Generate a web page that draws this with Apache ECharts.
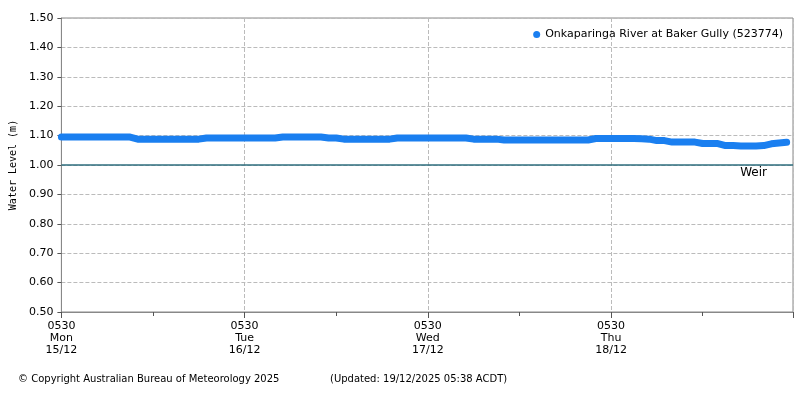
<!DOCTYPE html>
<html><head><meta charset="utf-8">
<script src="https://cdn.jsdelivr.net/npm/echarts@6/dist/echarts.min.js"></script>
<style>html,body{margin:0;background:#fff}#c{width:800px;height:400px}</style>
</head><body><div id="c"></div>
<script>
// hourly readings from Mon 15/12 05:30
var startTime = new Date(2025, 11, 15, 5, 30).getTime();
var endTime = new Date(2025, 11, 19, 5, 30).getTime();
var levels = [
  1.095,1.095,1.095,1.095,1.095,1.095,1.095,1.095,1.095,1.095,
  1.088,1.088,1.088,1.088,1.088,1.088,1.088,1.088,1.088,
  1.092,1.092,1.092,1.092,1.092,1.092,1.092,1.092,1.092,1.092,
  1.095,1.095,1.095,1.095,1.095,1.095,
  1.092,1.092,
  1.088,1.088,1.088,1.088,1.088,1.088,1.088,
  1.092,1.092,1.092,1.092,1.092,1.092,1.092,1.092,1.092,1.092,
  1.088,1.088,1.088,1.088,
  1.085,1.085,1.085,1.085,1.085,1.085,1.085,1.085,1.085,1.085,1.085,1.085,
  1.090,1.090,1.090,1.090,1.090,1.090,1.089,1.088,
  1.083,1.083,
  1.078,1.078,1.078,1.078,
  1.073,1.073,1.073,
  1.066,1.066,1.065,1.065,1.065,1.066,
  1.072,1.075,1.077
];
var weirLevel = 1.0;
var seriesName = 'Onkaparinga River at Baker Gully (523774)';
var dayNames = ['Sun','Mon','Tue','Wed','Thu','Fri','Sat'];

var points = levels.map(function (v, i) { return [startTime + i * 3600000, v]; });
function pad(n) { return (n < 10 ? '0' : '') + n; }

var chart = echarts.init(document.getElementById('c'));
chart.setOption({
    animation: false,
    textStyle: {fontFamily: 'DejaVu Sans', color: '#000'},
    grid: {left: 57, right: 7, top: 18, bottom: 88, show: true, borderColor: '#888', borderWidth: 1},
    legend: {
        right: 12, top: 24, itemWidth: 7, itemHeight: 7, itemGap: 4,
        data: [{name: seriesName, icon: 'circle'}],
        textStyle: {fontSize: 11, color: '#000'}
    },
    xAxis: {
        type: 'value', min: startTime, max: startTime + 4 * 86400000 - 10 * 60000, interval: 86400000,
        axisLine: {lineStyle: {color: '#888'}},
        axisTick: {length: 6, lineStyle: {color: '#555'}},
        minorTick: {show: true, splitNumber: 2, length: 4, lineStyle: {color: '#555'}},
        splitLine: {show: true, lineStyle: {color: '#bbb', type: 'dashed'}},
        axisLabel: {
            fontSize: 11, lineHeight: 12, color: '#000', showMaxLabel: false,
            formatter: function (val) {
                var d = new Date(val);
                return pad(d.getHours()) + pad(d.getMinutes()) + '\n' + dayNames[d.getDay()] + '\n' + pad(d.getDate()) + '/' + pad(d.getMonth() + 1);
            }
        }
    },
    yAxis: {
        type: 'value', min: 0.5, max: 1.5, interval: 0.1,
        name: 'Water Level (m)', nameLocation: 'middle', nameGap: 40,
        nameTextStyle: {fontFamily: 'DejaVu Sans Mono', fontSize: 10},
        axisLine: {show: true, lineStyle: {color: '#888'}},
        axisTick: {show: true, length: 4, lineStyle: {color: '#555'}},
        splitLine: {lineStyle: {color: '#bbb', type: 'dashed'}},
        axisLabel: {fontSize: 11, color: '#000', formatter: function (v) { return v.toFixed(2); }}
    },
    series: [{
        name: seriesName, type: 'line', data: points,
        showSymbol: false, symbol: 'circle',
        lineStyle: {color: '#1a7ff0', width: 7, cap: 'round', join: 'round'},
        itemStyle: {color: '#1a7ff0'},
        markLine: {
            silent: true, symbol: 'none',
            lineStyle: {color: '#2e6e7e', width: 1.5, type: 'solid'},
            label: {position: 'insideEndBottom', formatter: 'Weir', color: '#000', fontSize: 12, distance: [26, 2]},
            data: [{yAxis: weirLevel}]
        }
    }],
    graphic: [
        {type: 'text', left: 18, top: 374, style: {text: '© Copyright Australian Bureau of Meteorology 2025', fontSize: 10, fill: '#000', fontFamily: 'DejaVu Sans'}},
        {type: 'text', left: 330, top: 374, style: {text: '(Updated: 19/12/2025 05:38 ACDT)', fontSize: 10, fill: '#000', fontFamily: 'DejaVu Sans'}}
    ]
});
</script></body></html>
